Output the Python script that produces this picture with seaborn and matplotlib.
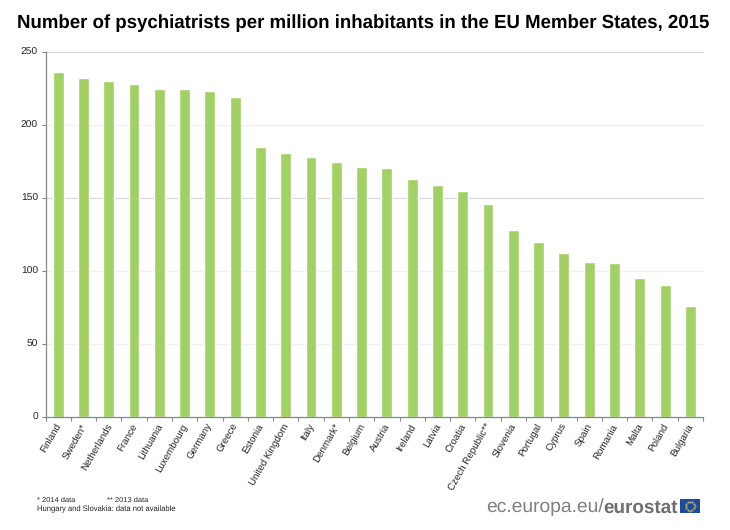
#!/usr/bin/env python3
"""Psychiatrists per million inhabitants, EU Member States, 2015."""
import numpy as np
import pandas as pd
import matplotlib
matplotlib.use('Agg')
import matplotlib.pyplot as plt
from matplotlib.patches import Rectangle
from matplotlib.transforms import ScaledTranslation
import seaborn as sns

countries = ['Finland', 'Sweden*', 'Netherlands', 'France', 'Lithuania', 'Luxembourg',
             'Germany', 'Greece', 'Estonia', 'United Kingdom', 'Italy', 'Denmark*',
             'Belgium', 'Austria', 'Ireland', 'Latvia', 'Croatia', 'Czech Republic**',
             'Slovenia', 'Portugal', 'Cyprus', 'Spain', 'Romania', 'Malta', 'Poland',
             'Bulgaria']
values = [236, 232, 229.5, 227.5, 224.5, 224.5, 223, 218.5, 184.5, 180.5, 178, 174,
          171, 170, 162.5, 158.5, 154.5, 145.5, 128, 119.5, 112, 105.5, 105, 95, 90, 76]
y_ticks = [0, 50, 100, 150, 200, 250]

GREEN = '#a2d066'
W, H = 730, 530

sns.set_theme(style='white')
plt.rcParams['font.family'] = ['Liberation Sans', 'DejaVu Sans']
plt.rcParams['text.hinting'] = 'no_hinting'

df = pd.DataFrame({'country': countries, 'value': values})

fig = plt.figure(figsize=(W / 100, H / 100), dpi=100)
ax = fig.add_axes([45.5 / W, 1 - 416.5 / H, (703 - 45.5) / W, (416.5 - 51.5) / H])

sns.barplot(data=df, x='country', y='value', color=GREEN, width=0.43, saturation=1, ax=ax)

ax.set_xlim(-0.5, len(countries) - 0.5)
ax.set_ylim(0, 250)
ax.set_xlabel('')
ax.set_ylabel('')
ax.set_yticks(y_ticks)
ax.tick_params(axis='y', labelsize=7.4, length=3, width=0.8, color='#868686', pad=2.5,
               labelcolor='#222222', left=True)
ax.grid(False)
for y, col in zip([50, 100, 150, 200, 250],
                  ['#f0f0f0', '#f0f0f0', '#d9d9d9', '#f0f0f0', '#d9d9d9']):
    ax.axhline(y, color=col, lw=0.9, zorder=0, clip_on=False)

# category ticks sit between the bars
ax.set_xticks(np.arange(len(countries)))
ax.set_xticklabels(countries, rotation=60, ha='right', rotation_mode='anchor',
                   fontsize=7.0, color='#222222')
ax.tick_params(axis='x', length=0, pad=4)
ax.set_xticks(np.arange(len(countries) + 1) - 0.5, minor=True)
ax.tick_params(axis='x', which='minor', length=3, width=0.8, color='#868686', bottom=True)

# labels end a little left of the bar centre in the original
shift = ScaledTranslation(-3 / 100, 0, fig.dpi_scale_trans)
for lab in ax.get_xticklabels():
    lab.set_transform(lab.get_transform() + shift)

for side in ['top', 'right']:
    ax.spines[side].set_visible(False)
for side in ['left', 'bottom']:
    ax.spines[side].set_color('#868686')
    ax.spines[side].set_linewidth(0.9)

fig.text(363 / W, 1 - 23 / H, 'Number of psychiatrists per million inhabitants in the EU Member States, 2015',
         ha='center', va='center', fontsize=13.45, fontweight='bold', color='black')

fig.text(37 / W, 1 - 500 / H, '* 2014 data', fontsize=5.4, va='center', color='#222222')
fig.text(107 / W, 1 - 500 / H, '** 2013 data', fontsize=5.4, va='center', color='#222222')
fig.text(37 / W, 1 - 509 / H, 'Hungary and Slovakia: data not available', fontsize=5.5,
         va='center', color='#222222')

fig.text(678 / W, 1 - 507.5 / H, 'eurostat', ha='right', va='center', fontsize=13.6,
         fontweight='bold', color='#6d6e70')
fig.text(604 / W, 1 - 507.5 / H, 'ec.europa.eu/', ha='right', va='center', fontsize=13.9,
         color='#808080')

# EU flag next to the logo text
fig.add_artist(Rectangle((680 / W, 1 - 513 / H), 20 / W, 14 / H, transform=fig.transFigure,
                         facecolor='#1f4a9c', edgecolor='none'))
angles = np.linspace(0, 2 * np.pi, 12, endpoint=False)
fig.add_artist(plt.Line2D((690 + 4.5 * np.cos(angles)) / W, (1 - 506 / H) + 4.5 * np.sin(angles) / H,
                          transform=fig.transFigure, ls='none', marker='o', ms=0.5,
                          color='#c9c25a'))

fig.savefig('out.png', dpi=100)
